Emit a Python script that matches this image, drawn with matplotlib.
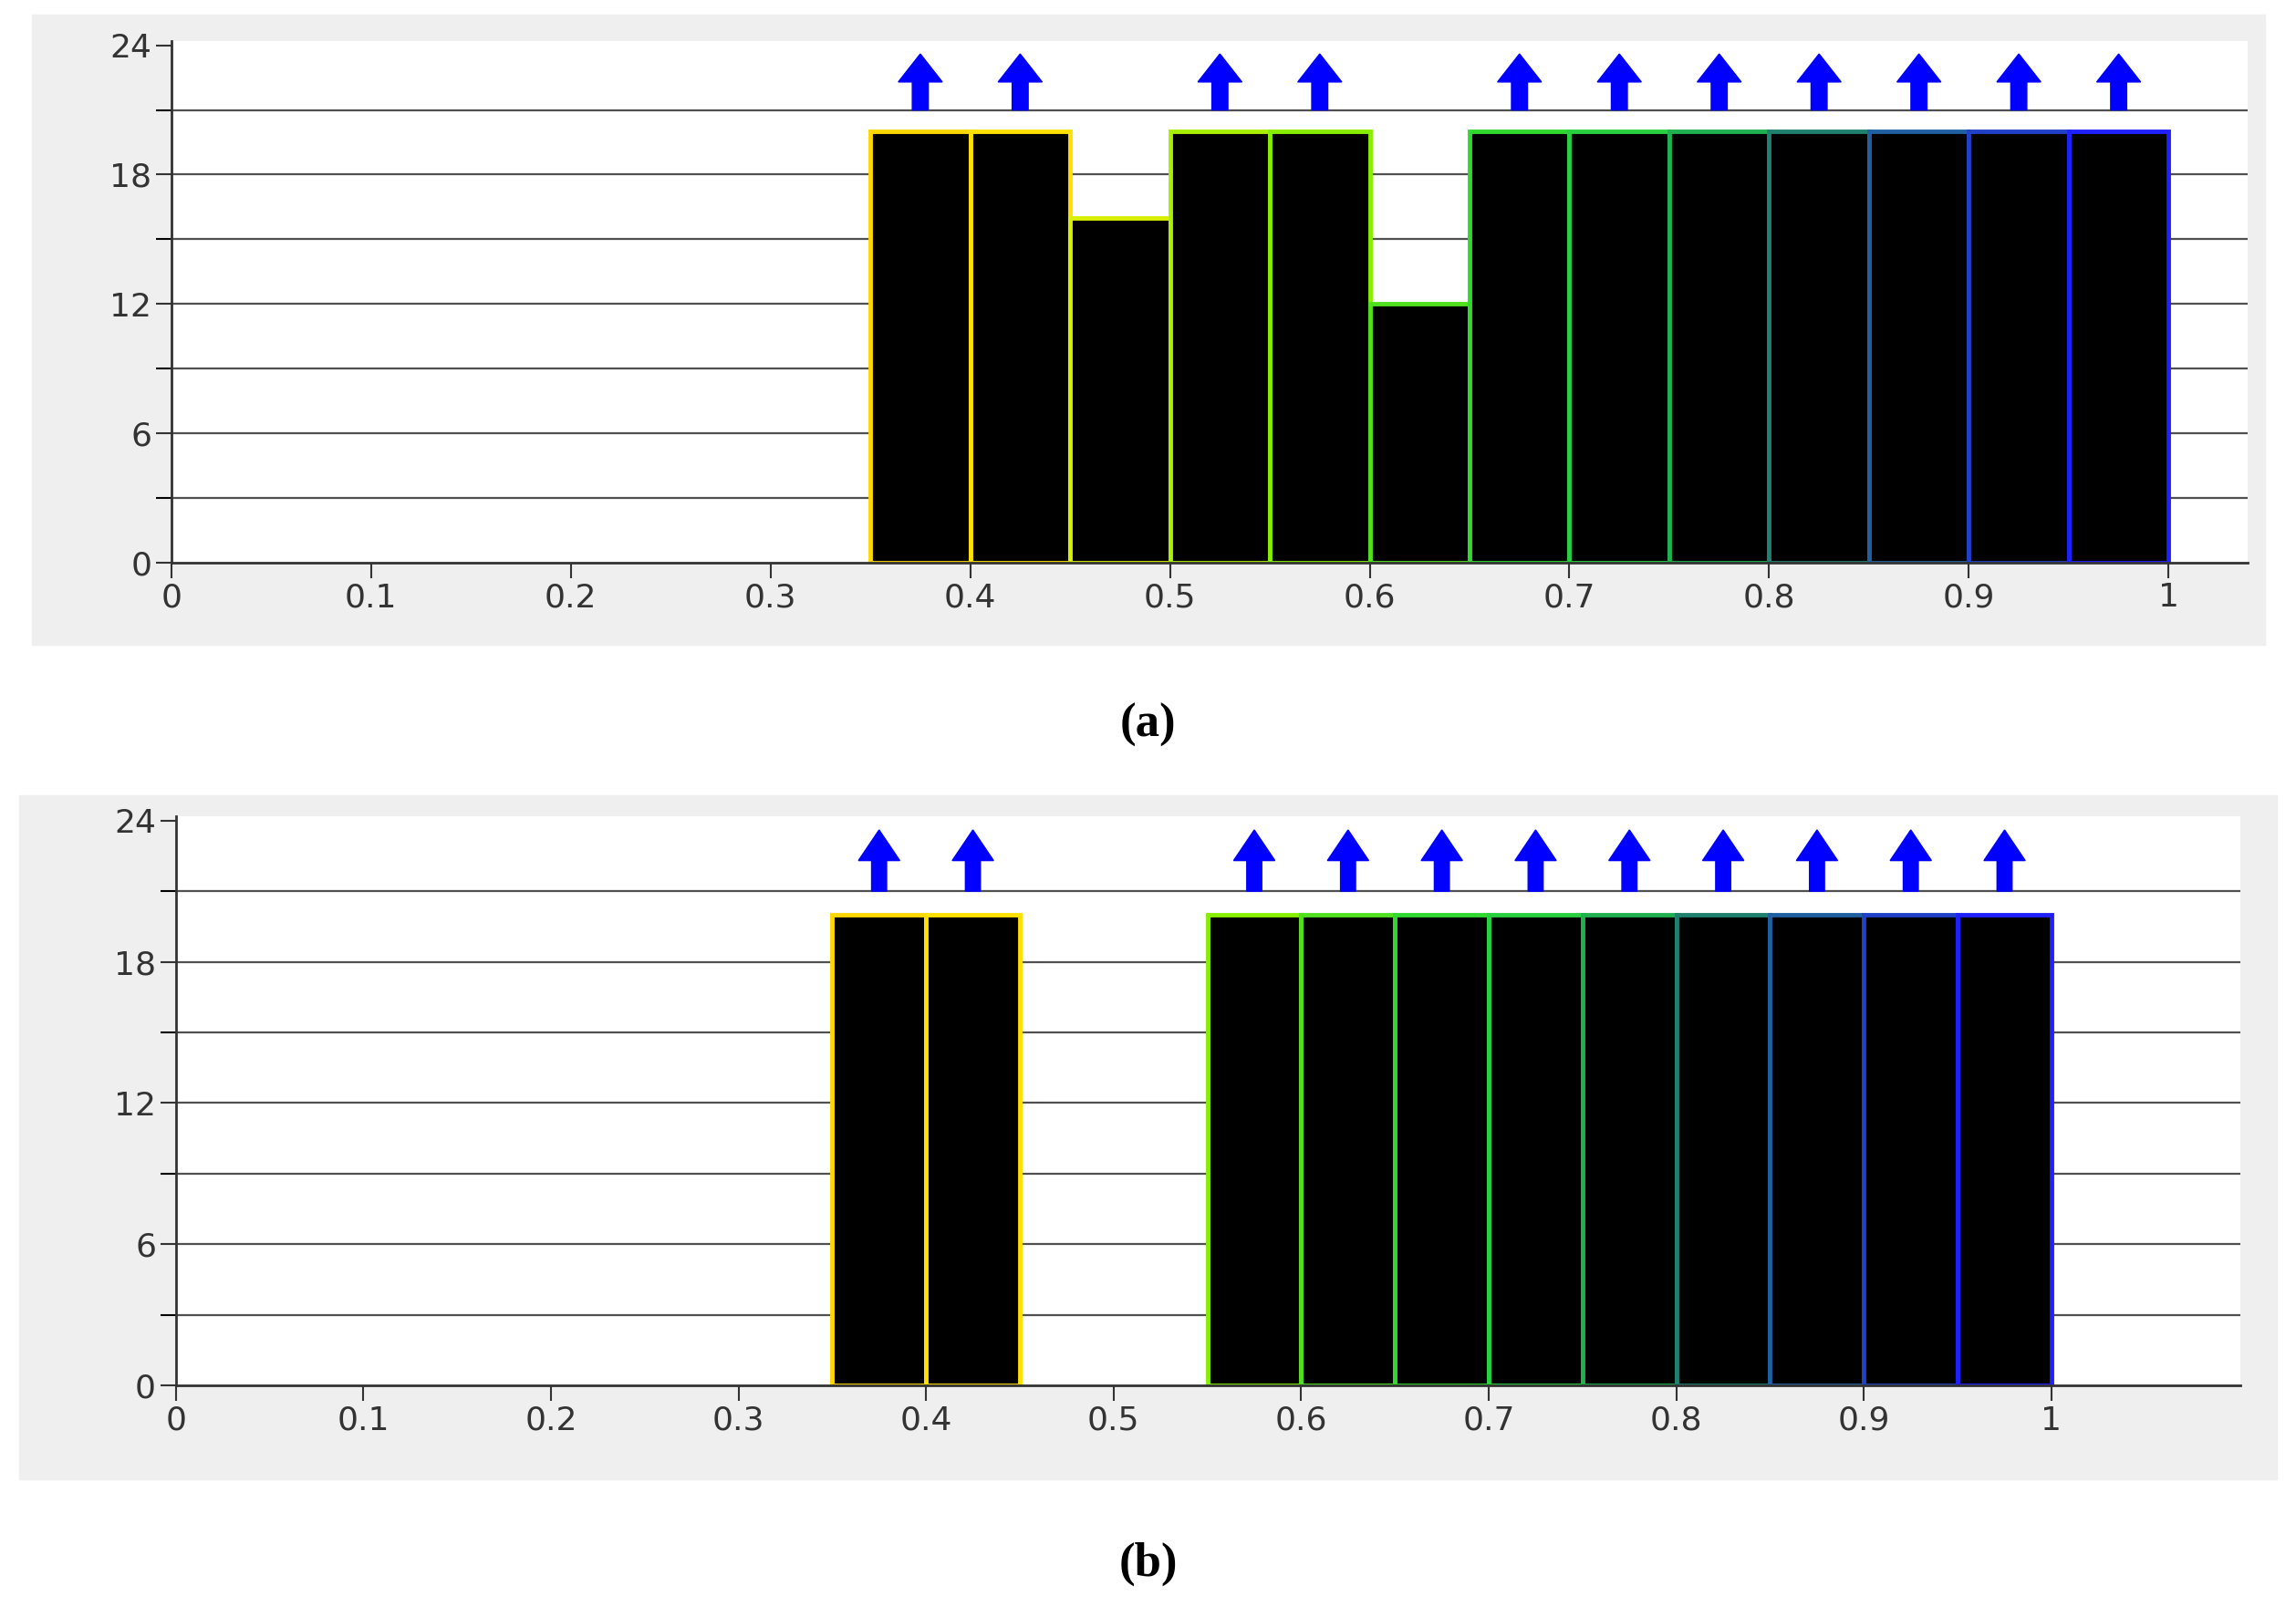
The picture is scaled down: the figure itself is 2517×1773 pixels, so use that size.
import matplotlib.pyplot as plt
from matplotlib.patches import Rectangle

# bin left edges (width 0.05) and counts
bins_a = [0.35, 0.40, 0.45, 0.50, 0.55, 0.60, 0.65, 0.70, 0.75, 0.80, 0.85, 0.90, 0.95]
counts_a = [20, 20, 16, 20, 20, 12, 20, 20, 20, 20, 20, 20, 20]
bins_b = [0.35, 0.40, 0.55, 0.60, 0.65, 0.70, 0.75, 0.80, 0.85, 0.90, 0.95]
counts_b = [20, 20, 20, 20, 20, 20, 20, 20, 20, 20, 20]
saturated = 20

edge_colors = {0.35: "#ffd700", 0.40: "#ffe000", 0.45: "#d8f000", 0.50: "#a8f000",
               0.55: "#88ee00", 0.60: "#50e020", 0.65: "#30d830", 0.70: "#28d040",
               0.75: "#20b050", 0.80: "#208070", 0.85: "#2060a0", 0.90: "#2040c8",
               0.95: "#2020ff"}

W, H = 1568, 1104
fig = plt.figure(figsize=(25.17, 17.73), dpi=100)


def panel(gray, plot_px, xmax, bins, counts, label, label_y):
    gx0, gy0, gx1, gy1 = gray
    fig.add_artist(Rectangle((gx0 / W, 1 - gy1 / H), (gx1 - gx0) / W, (gy1 - gy0) / H,
                             transform=fig.transFigure, color="#efefef", zorder=-10))
    x0, y0, x1, y1 = plot_px
    ax = fig.add_axes([x0 / W, 1 - y1 / H, (x1 - x0) / W, (y1 - y0) / H])
    ax.set_zorder(1)
    ax.set_xlim(0, xmax)
    ax.set_ylim(0, 24.2)
    for y in range(3, 24, 3):
        ax.axhline(y, color="#505050", lw=1.6, zorder=1)
    for b, c in zip(bins, counts):
        ax.bar(b, c, width=0.05, align="edge", color="black",
               edgecolor=edge_colors[round(b, 2)], linewidth=3.5, zorder=2)
        if c >= saturated:
            ax.arrow(b + 0.025, 21.0, 0, 2.6, width=0.008, head_width=0.022,
                     head_length=1.3, color="blue", length_includes_head=True, zorder=3)
    ax.set_xticks([i / 10 for i in range(11)])
    ax.set_xticklabels(["0", "0.1", "0.2", "0.3", "0.4", "0.5", "0.6", "0.7", "0.8", "0.9", "1"])
    ax.set_yticks(range(0, 25, 6))
    ax.set_yticks(range(3, 24, 6), minor=True)
    ax.tick_params(axis="both", labelsize=26, length=12, width=1.5, direction="out",
                   colors="#333333")
    ax.tick_params(axis="y", which="minor", length=12, width=1.5)
    for s in ["top", "right"]:
        ax.spines[s].set_visible(False)
    for s in ["left", "bottom"]:
        ax.spines[s].set_color("#333333")
        ax.spines[s].set_linewidth(2)
    fig.text(0.5, label_y, f"({label})", ha="center", va="center", fontsize=38,
             family="Liberation Serif", fontweight="bold")


panel((22, 10, 1547, 440), (117, 28, 1535, 384), (1535 - 117) / (1481 - 117),
      bins_a, counts_a, "a", 1 - 495 / H)
panel((13, 543, 1555, 1010), (120, 557, 1530, 946), (1530 - 120) / (1401 - 120),
      bins_b, counts_b, "b", 1 - 1068 / H)

fig.savefig("out.png", dpi=100, facecolor="white")
